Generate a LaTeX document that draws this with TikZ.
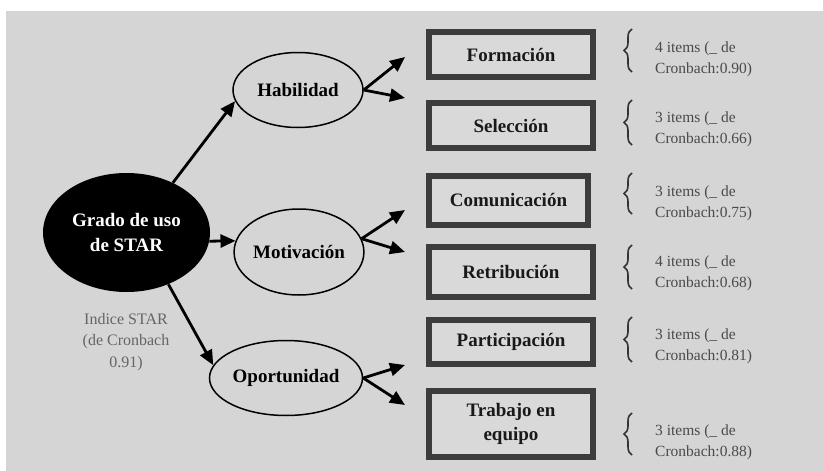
\documentclass[tikz,border=0pt]{standalone}
\usepackage{fontspec}
\setmainfont{Liberation Serif}
\usetikzlibrary{arrows.meta,shapes.geometric,decorations.pathreplacing}
\definecolor{bg}{HTML}{D5D5D5}
\definecolor{boxline}{HTML}{3C3C3C}
\definecolor{boxfill}{HTML}{D9D9D9}
\definecolor{notecol}{HTML}{4A4A4A}
\definecolor{bracecol}{HTML}{333333}
\begin{document}
\begin{tikzpicture}[x=1pt,y=-1pt,
 oval/.style={ellipse,draw,line width=1.5pt,inner sep=0pt,font=\fontsize{19}{22}\selectfont\bfseries},
 factor/.style={rectangle,draw=boxline,fill=boxfill,line width=6pt,inner sep=0pt,minimum width=164pt,font=\fontsize{19}{24}\selectfont\bfseries,align=center,text=black!90},
 arr/.style={line width=2.8pt,-{Triangle[length=15pt,width=13pt]}},
 notetext/.style={anchor=west,text=notecol,font=\fontsize{15.5}{21}\selectfont,align=left,inner sep=0pt},
 brc/.style={decorate,decoration={brace,amplitude=8pt},line width=1.6pt,draw=bracecol}
]
\useasboundingbox (0,0) rectangle (823,471);
\fill[white] (0,0) rectangle (823,471);
\fill[bg] (6,11) rectangle (823,471);

% central node
\node[ellipse,fill=black,inner sep=0pt,minimum width=167pt,minimum height=119pt,text=white,
      font=\fontsize{19}{25}\selectfont\bfseries,align=center] (g) at (126.5,232.5) {Grado de uso\\de STAR};
\node[text=notecol!85,font=\fontsize{16}{21.5}\selectfont,align=center,inner sep=0pt] (idx) at (126,342) {Indice STAR\\(de Cronbach\\0.91)};

% dimensions
\node[oval,minimum width=130pt,minimum height=75pt] (hab) at (298,90) {Habilidad};
\node[oval,minimum width=128pt,minimum height=86pt] (mot) at (299,252) {Motivación};
\node[oval,minimum width=153pt,minimum height=75pt] (opo) at (286,378) {Oportunidad};

\draw[arr] (g.47) -- (hab.190);
\draw[arr] (g.-6) -- (mot.170);
\draw[arr] (g.-51) -- (opo.170);

% arrow tips
\coordinate (t1) at (405,57);
\coordinate (t2) at (405,98);
\coordinate (t3) at (405,210);
\coordinate (t4) at (405,252);
\coordinate (t5) at (405,365);
\coordinate (t6) at (405,405);
\draw[arr] (hab.east) -- (t1);
\draw[arr] (hab.east) -- (t2);
\draw[arr] (mot.12) -- (t3);
\draw[arr] (mot.12) -- (t4);
\draw[arr] (opo.east) -- (t5);
\draw[arr] (opo.east) -- (t6);

% factor boxes
\node[factor,minimum height=45pt] (f1) at (511,54.5) {Formación};
\node[factor,minimum height=45pt] (f2) at (511,125.5) {Selección};
\node[factor,minimum width=159pt,minimum height=49pt] (f3) at (508.5,200.5) {Comunicación};
\node[factor,minimum height=50pt] (f4) at (511,272) {Retribución};
\node[factor,minimum height=44pt] (f5) at (511,342) {Participación};
\node[factor,minimum height=66pt] (f6) at (511,424) {Trabajo en\\equipo};

% braces and notes
\draw[brc] (632,72) -- (632,29);
\draw[brc] (632,145) -- (632,100);
\draw[brc] (632,214) -- (632,173);
\draw[brc] (632,289) -- (632,245);
\draw[brc] (632,362) -- (632,317);
\draw[brc] (632,455) -- (632,413);
\node[notetext] (n1) at (655,59.5) {4 items (\_ de\\Cronbach:0.90)};
\node[notetext] (n2) at (655,129) {3 items (\_ de\\Cronbach:0.66)};
\node[notetext] (n3) at (655,203) {3 items (\_ de\\Cronbach:0.75)};
\node[notetext] (n4) at (655,273) {4 items (\_ de\\Cronbach:0.68)};
\node[notetext] (n5) at (655,346.5) {3 items (\_ de\\Cronbach:0.81)};
\node[notetext] (n6) at (655,442.5) {3 items (\_ de\\Cronbach:0.88)};
\end{tikzpicture}
\end{document}
